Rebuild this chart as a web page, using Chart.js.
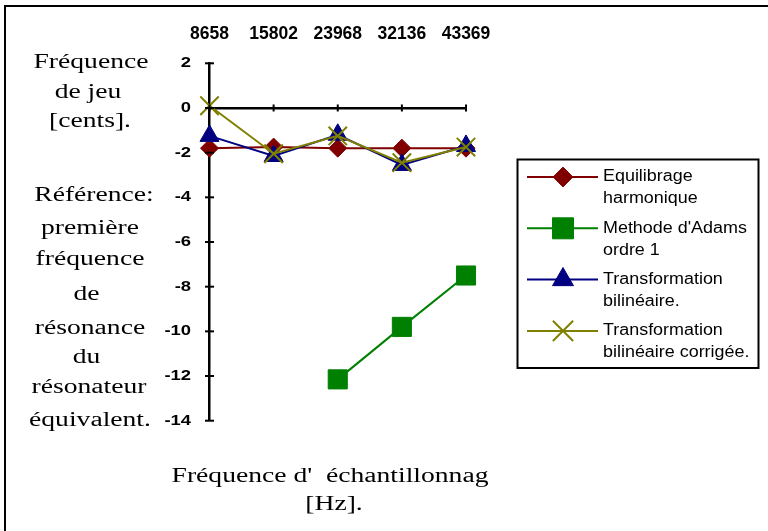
<!DOCTYPE html>
<html>
<head>
<meta charset="utf-8">
<script src="https://cdn.jsdelivr.net/npm/chart.js@4.4.0/dist/chart.umd.min.js"></script>
<style>
  html, body { margin: 0; background: #fff; overflow: hidden; }
  #wrap { position: relative; width: 768px; height: 531px; overflow: hidden; }
  #frame { position: absolute; left: 4px; top: 5px; width: 900px; height: 700px;
           border-left: 2.5px solid #000; border-top: 2.5px solid #000; }
  .t { position: absolute; font: 20px "Liberation Serif", "Times New Roman", serif;
       line-height: 20px; white-space: pre; color: #000;
       transform: translateX(-50%) scaleX(1.38); }
  canvas { position: absolute; left: 0; top: 0; }
</style>
</head>
<body>
<div id="wrap">
  <canvas id="chart" width="768" height="531"></canvas>
  <div id="frame"></div>
  <!-- titre axe vertical -->
  <div class="t" style="left:91px; top:51px">Fréquence</div>
  <div class="t" style="left:88px; top:81px">de jeu</div>
  <div class="t" style="left:90px; top:110px">[cents].</div>
  <div class="t" style="left:94px; top:184px">Référence:</div>
  <div class="t" style="left:90px; top:217px">première</div>
  <div class="t" style="left:90px; top:248px">fréquence</div>
  <div class="t" style="left:90px; top:283px">de&nbsp;</div>
  <div class="t" style="left:90px; top:317px">résonance</div>
  <div class="t" style="left:90px; top:346px">du&nbsp;</div>
  <div class="t" style="left:89px; top:376px">résonateur</div>
  <div class="t" style="left:90px; top:409px">équivalent.</div>
  <!-- titre axe horizontal -->
  <div class="t" style="left:330px; top:465px">Fréquence d'  échantillonnag</div>
  <div class="t" style="left:334px; top:493px">[Hz].</div>
</div>
<script>
// données
const frequences = ['8658', '15802', '23968', '32136', '43369'];
const equilibrage = [-1.8, -1.75, -1.8, -1.8, -1.8];
const adams = [null, null, -12.15, -9.8, -7.5];
const bilineaire = [-1.25, -2.15, -1.2, -2.55, -1.7];
const corrigee = [0.1, -2.05, -1.25, -2.45, -1.75];
const legendLines = [
    ['Equilibrage', 'harmonique'],
    ["Methode d'Adams", 'ordre 1'],
    ['Transformation', 'bilinéaire.'],
    ['Transformation', 'bilinéaire corrigée.']
];
const yMin = -14, yMax = 2, yStep = 2;

function serie(i, data, color, style, radius, order) {
    return {
        label: legendLines[i].join(' '), data,
        borderColor: color, backgroundColor: color,
        borderWidth: 2, pointStyle: style, pointRadius: radius,
        pointBorderWidth: style === 'crossRot' ? 2 : 1,
        pointHoverRadius: radius, order, spanGaps: false
    };
}

// graduations qui traversent les axes + étiquettes Y étirées
const axisMarks = {
    id: 'axisMarks',
    afterDraw(chart) {
        const {ctx, chartArea} = chart;
        const y = chart.scales.y, x = chart.scales.x;
        const left = chartArea.left;
        const y0 = y.getPixelForValue(0);
        ctx.save();
        ctx.strokeStyle = '#000';
        ctx.lineWidth = 2;
        y.ticks.forEach(t => {
            const py = y.getPixelForValue(t.value);
            ctx.beginPath(); ctx.moveTo(left - 4.5, py); ctx.lineTo(left + 4.5, py); ctx.stroke();
        });
        frequences.forEach((f, i) => {
            const px = x.getPixelForValue(i);
            ctx.beginPath(); ctx.moveTo(px, y0 - 3.5); ctx.lineTo(px, y0 + 3.5); ctx.stroke();
        });
        ctx.fillStyle = '#000';
        ctx.font = 'bold 14.5px "Liberation Sans", Arial, sans-serif';
        ctx.textAlign = 'right';
        ctx.textBaseline = 'middle';
        y.ticks.forEach(t => {
            ctx.save();
            ctx.translate(left - 18.5, y.getPixelForValue(t.value));
            ctx.scale(1.27, 1);
            ctx.fillText(String(t.value), 0, 0);
            ctx.restore();
        });
        ctx.restore();
    }
};

// légende encadrée, libellés sur deux lignes
const boxLegend = {
    id: 'boxLegend',
    afterDraw(chart) {
        const ctx = chart.ctx;
        const bx = 517.5, by = 159.5, bw = 241, bh = 208.5;
        ctx.save();
        ctx.strokeStyle = '#000';
        ctx.lineWidth = 2;
        ctx.strokeRect(bx, by, bw, bh);
        chart.data.datasets.forEach((ds, i) => {
            const ry = by + 17.5 + i * 51.3;
            ctx.strokeStyle = ds.borderColor;
            ctx.fillStyle = ds.backgroundColor;
            ctx.lineWidth = 2;
            ctx.beginPath(); ctx.moveTo(527, ry); ctx.lineTo(598, ry); ctx.stroke();
            ctx.lineWidth = ds.pointBorderWidth;
            Chart.helpers.drawPoint(ctx, {
                pointStyle: ds.pointStyle, radius: ds.pointRadius * 1.1,
                rotation: 0, borderWidth: ds.pointBorderWidth
            }, 563, ry);
            ctx.fillStyle = '#000';
            ctx.font = '16px "Liberation Sans", Arial, sans-serif';
            ctx.textAlign = 'left';
            ctx.textBaseline = 'middle';
            legendLines[i].forEach((line, k) => {
                ctx.save();
                ctx.translate(603, ry + k * 22);
                ctx.scale(1.12, 1);
                ctx.fillText(line, 0, 0);
                ctx.restore();
            });
        });
        ctx.restore();
    }
};

new Chart(document.getElementById('chart'), {
    type: 'line',
    data: {
        labels: frequences,
        datasets: [
            serie(0, equilibrage, '#800000', 'rectRot', 9, 3),
            serie(1, adams, '#008000', 'rect', 13.5, 2),
            serie(2, bilineaire, '#000080', 'triangle', 11, 1),
            serie(3, corrigee, '#808000', 'crossRot', 13, 0)
        ]
    },
    options: {
        responsive: false,
        animation: false,
        devicePixelRatio: 1,
        layout: { padding: { left: 169.5, top: 23.3, right: 302, bottom: 110.3 } },
        plugins: { legend: { display: false }, tooltip: { enabled: false } },
        scales: {
            x: {
                type: 'category', position: 'top', offset: false,
                grid: { display: false, drawTicks: false },
                border: { display: false },
                ticks: {
                    color: '#000', padding: 18.5, maxRotation: 0, autoSkip: false,
                    font: { family: '"Liberation Sans", Arial, sans-serif', size: 17.5, weight: 'bold' }
                },
                afterFit: s => { s.height = 40; }
            },
            x0: {
                type: 'category', position: { y: 0 }, offset: false,
                grid: { display: false, drawTicks: false },
                border: { display: true, color: '#000', width: 2.5 },
                ticks: { display: false }
            },
            y: {
                min: yMin, max: yMax,
                grid: { display: false, drawTicks: false },
                border: { display: true, color: '#000', width: 2.5 },
                ticks: { display: false, stepSize: yStep },
                afterFit: s => { s.width = 40; }
            }
        }
    },
    plugins: [axisMarks, boxLegend]
});
</script>
</body>
</html>
